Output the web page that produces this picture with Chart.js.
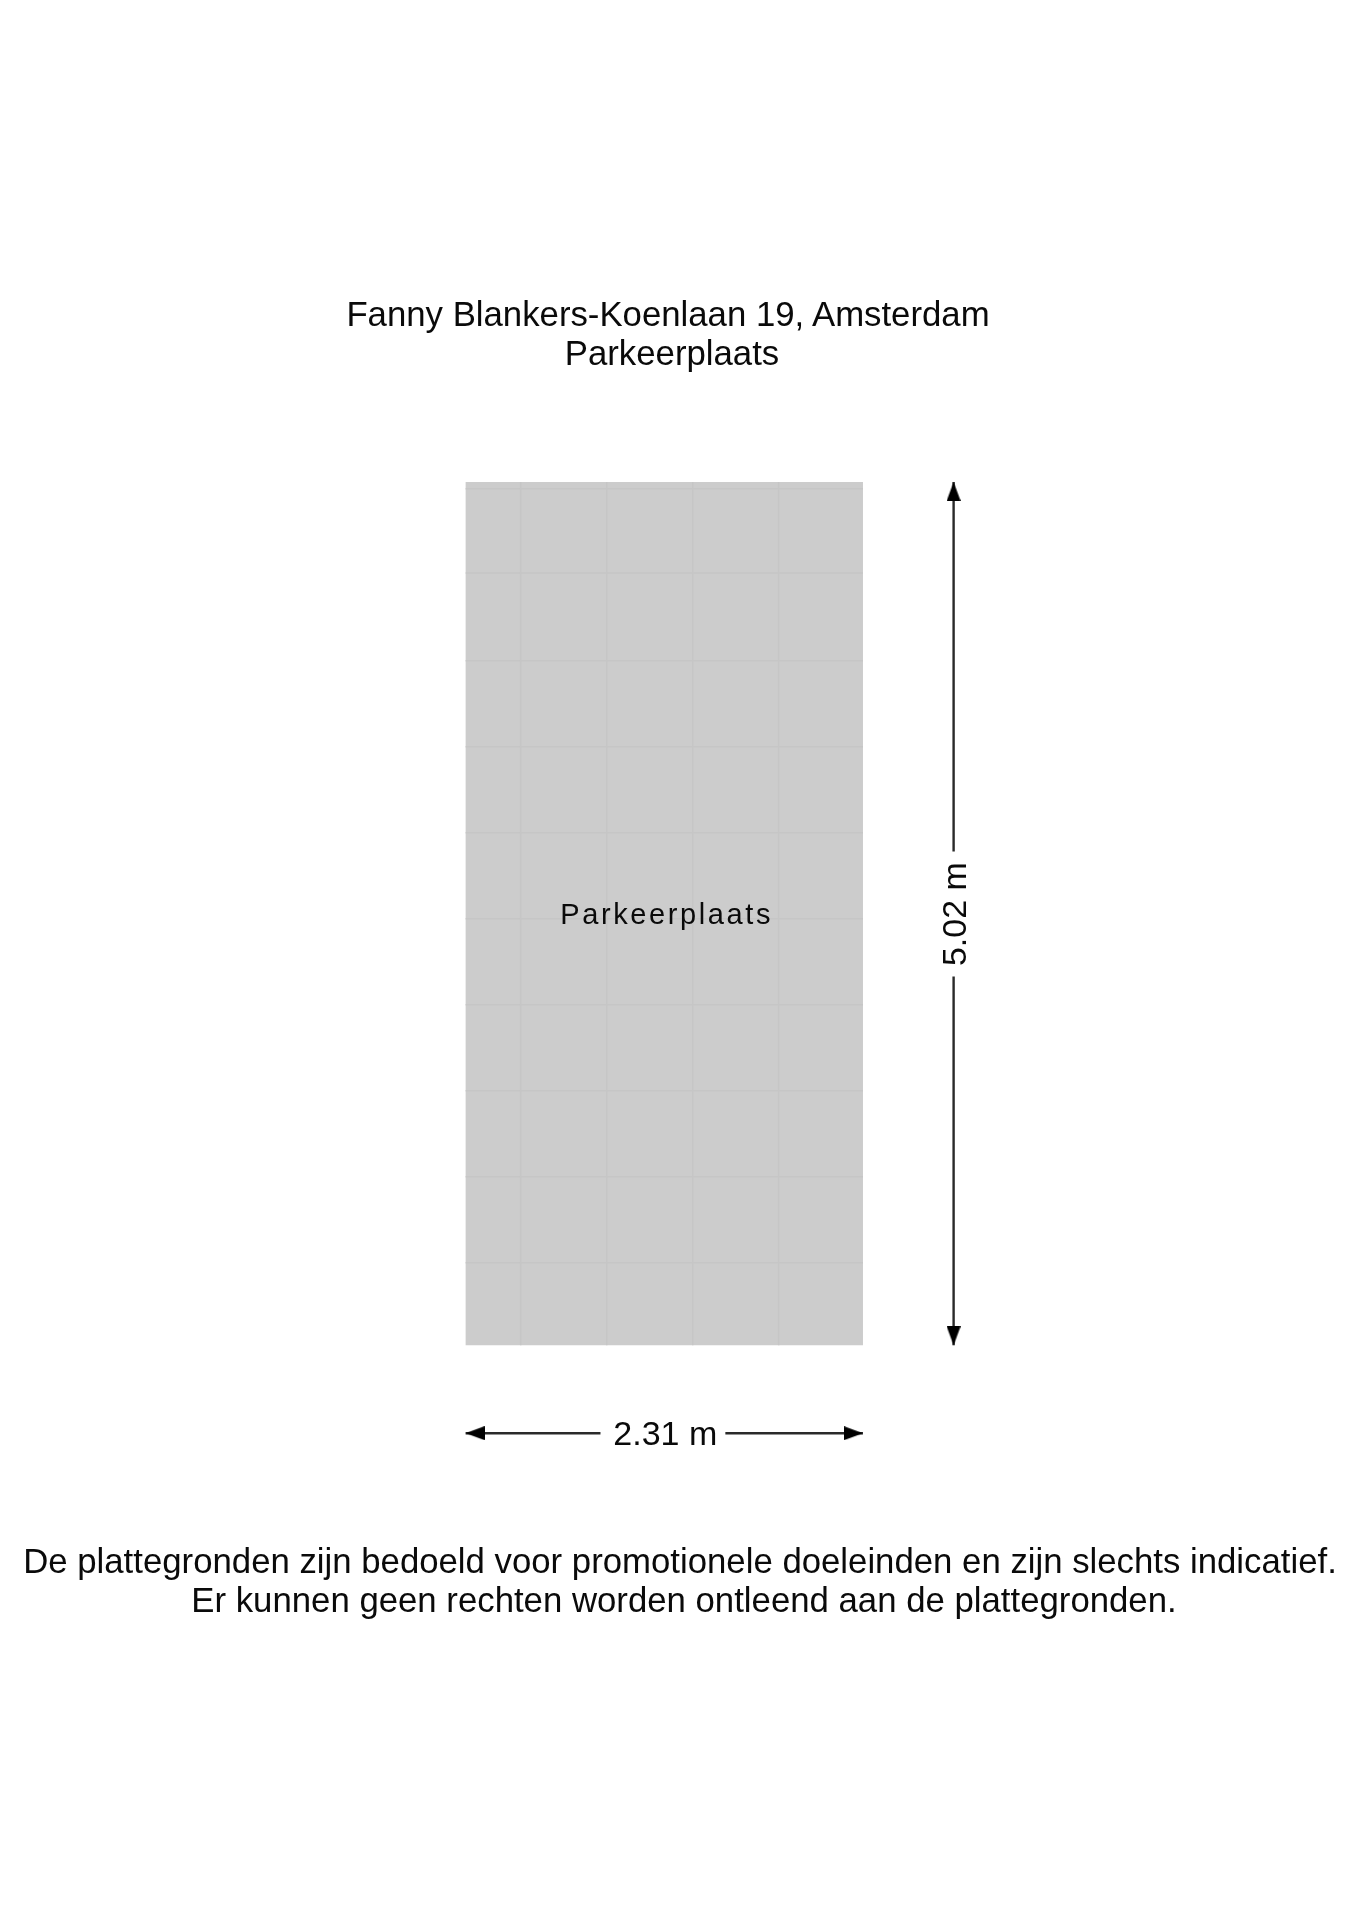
<!DOCTYPE html>
<html>
<head>
<meta charset="utf-8">
<title>Parkeerplaats</title>
<script src="https://cdn.jsdelivr.net/npm/chart.js@4"></script>
<style>
  body { margin: 0; background: #fff; font-family: "Liberation Sans", Arial, sans-serif; color: #0a0a0a; }
  #wrap { position: relative; width: 1358px; height: 1920px; overflow: hidden; }
  canvas { position: absolute; left: 0; top: 0; }
  .txt { position: absolute; white-space: nowrap; text-align: center; font-size: 34.75px; line-height: 39px; }
  .txt span { position: relative; left: 4px; }
  #head { left: 0; width: 1336px; top: 295px; }
  #foot { left: 0; width: 1360px; top: 1542px; }
</style>
</head>
<body>
<div id="wrap">
  <canvas id="plan" width="1358" height="1920"></canvas>
  <div class="txt" id="head"></div>
  <div class="txt" id="foot"></div>
</div>
<script>
// text
const headLines = ['Fanny Blankers-Koenlaan 19, Amsterdam', 'Parkeerplaats'];
const footLines = ['De plattegronden zijn bedoeld voor promotionele doeleinden en zijn slechts indicatief.',
                   'Er kunnen geen rechten worden ontleend aan de plattegronden.'];
const roomName = 'Parkeerplaats';

// room size in metres
const roomWidth = 2.31;
const roomLength = 5.02;

// tile joints, metres from the bottom left corner
const jointsX = [0.32, 0.82, 1.32, 1.82];
const jointsY = [0.48, 0.98, 1.48, 1.98, 2.48, 2.98, 3.48, 3.98, 4.49, 4.98];

// dimension lines: where they sit and where the gap for the label is
const widthLineY = -0.511;
const widthGap = [0.784, 1.51];
const lengthLineX = 2.837;
const lengthGap = [2.144, 2.871];

// whole page in metres (172 px per metre)
const xRange = [-2.707, 5.188];
const yRange = [-3.341, 7.822];

document.getElementById('head').innerHTML = headLines[0] + '<br><span>' + headLines[1] + '</span>';
document.getElementById('foot').innerHTML = footLines[0] + '<br><span>' + footLines[1] + '</span>';

// arrow head with its tip in the middle of the canvas, so the point sits on the line end
function arrowHead() {
  const c = document.createElement('canvas');
  c.width = 38;
  c.height = 14;
  const g = c.getContext('2d');
  g.fillStyle = '#000';
  g.beginPath();
  g.moveTo(38 / 2, 7);
  g.lineTo(0, 0);
  g.lineTo(0, 14);
  g.closePath();
  g.fill();
  return c;
}
const head = arrowHead();

function line(from, to) {
  return {
    data: [from, to],
    showLine: true,
    borderColor: '#2a2a2a',
    borderWidth: 2.4,
    pointRadius: [8, 0],
    pointStyle: head,
    clip: false
  };
}

function joint(from, to) {
  return { data: [from, to], showLine: true, borderColor: '#c6c6c6', borderWidth: 1.5, pointRadius: 0 };
}

const datasets = [
  Object.assign(line({ x: 0, y: widthLineY }, { x: widthGap[0], y: widthLineY }), { pointRotation: 180 }),
  Object.assign(line({ x: roomWidth, y: widthLineY }, { x: widthGap[1], y: widthLineY }), { pointRotation: 0 }),
  Object.assign(line({ x: lengthLineX, y: 0 }, { x: lengthLineX, y: lengthGap[0] }), { pointRotation: 90 }),
  Object.assign(line({ x: lengthLineX, y: roomLength }, { x: lengthLineX, y: lengthGap[1] }), { pointRotation: -90 }),
  ...jointsX.map(v => joint({ x: v, y: 0 }, { x: v, y: roomLength })),
  ...jointsY.map(v => joint({ x: 0, y: v }, { x: roomWidth, y: v })),
  // floor goes last so it ends up underneath
  {
    data: [
      { x: 0, y: 0 }, { x: roomWidth, y: 0 }, { x: roomWidth, y: roomLength }, { x: 0, y: roomLength }, { x: 0, y: 0 }
    ],
    showLine: true,
    fill: 'shape',
    backgroundColor: '#cccccc',
    borderWidth: 0,
    pointRadius: 0
  }
];

// labels inside the plan, placed through the scales
const planLabels = {
  id: 'planLabels',
  afterDatasetsDraw(chart) {
    const { ctx, scales: { x, y } } = chart;
    ctx.save();
    ctx.fillStyle = '#0a0a0a';
    ctx.textAlign = 'center';
    ctx.textBaseline = 'middle';

    ctx.font = '29px "Liberation Sans"';
    ctx.letterSpacing = '2.6px';
    ctx.fillText(roomName, x.getPixelForValue(roomWidth / 2 + 0.014), y.getPixelForValue(roomLength / 2) + 2);
    ctx.letterSpacing = '0px';

    ctx.font = '34px "Liberation Sans"';
    ctx.fillText(roomWidth.toFixed(2) + ' m', x.getPixelForValue((widthGap[0] + widthGap[1]) / 2) + 2.4, y.getPixelForValue(widthLineY) + 2);

    ctx.translate(x.getPixelForValue(lengthLineX) + 3, y.getPixelForValue((lengthGap[0] + lengthGap[1]) / 2));
    ctx.rotate(-Math.PI / 2);
    ctx.fillText(roomLength.toFixed(2) + ' m', 0, 0);
    ctx.restore();
  }
};

new Chart(document.getElementById('plan').getContext('2d'), {
  type: 'scatter',
  data: { datasets },
  plugins: [planLabels],
  options: {
    responsive: false,
    devicePixelRatio: 1,
    animation: false,
    events: [],
    layout: { autoPadding: false },
    scales: {
      x: { type: 'linear', display: false, min: xRange[0], max: xRange[1] },
      y: { type: 'linear', display: false, min: yRange[0], max: yRange[1] }
    },
    plugins: { legend: { display: false }, tooltip: { enabled: false } }
  }
});
</script>
</body>
</html>
